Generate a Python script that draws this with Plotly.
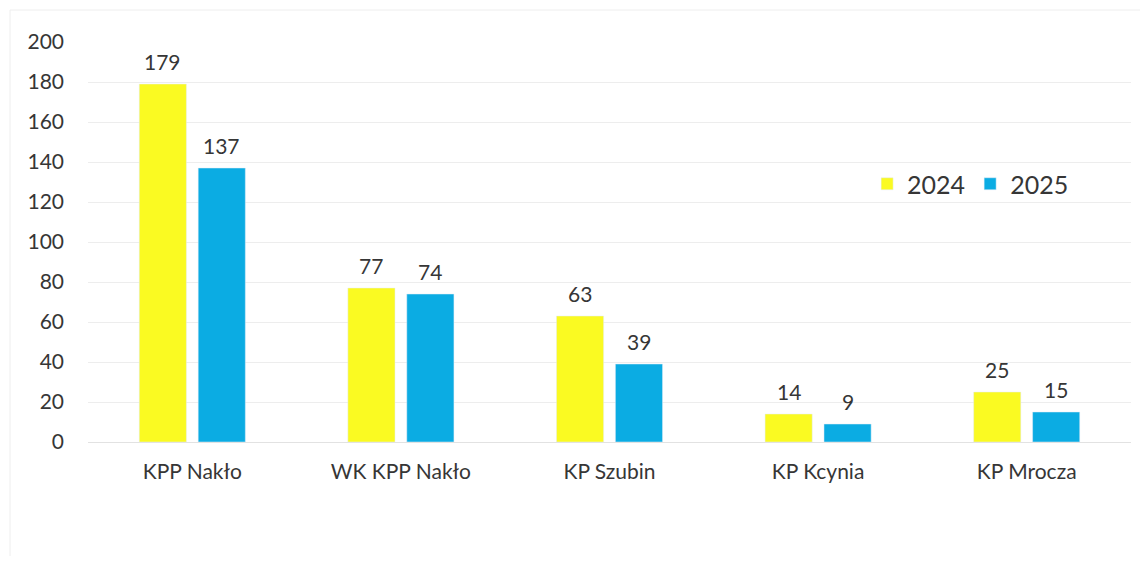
import plotly.graph_objects as go

categories = ["KPP Nakło", "WK KPP Nakło", "KP Szubin", "KP Kcynia", "KP Mrocza"]
values_2024 = [179, 77, 63, 14, 25]
values_2025 = [137, 74, 39, 9, 15]
y_ticks = [0, 20, 40, 60, 80, 100, 120, 140, 160, 180, 200]

FONT = "Lato, 'Open Sans', sans-serif"
TXT = "#363636"
YELLOW = "#FAFA22"
BLUE = "#0BACE3"

# page body has an 8px default margin; size the figure to fit the viewport
W, H = 1140, 548
ML, MR, MT, MB = 80, 17, 34, 114
plot_w = W - ML - MR
plot_h = H - MT - MB
cat_w = plot_w / len(categories)
BARGAP, BARGROUPGAP = 0.435, 0.2
slot = cat_w * (1 - BARGAP) / 2

fig = go.Figure()
fig.add_trace(go.Bar(name="2024", x=categories, y=values_2024, marker_color=YELLOW))
fig.add_trace(go.Bar(name="2025", x=categories, y=values_2025, marker_color=BLUE))

annotations = []
for vals, shift in ((values_2024, -slot / 2), (values_2025, slot / 2)):
    for c, v in zip(categories, vals):
        annotations.append(dict(
            x=c, y=v, xref="x", yref="y", text=str(v), showarrow=False,
            xshift=shift, yshift=23, yanchor="middle", xanchor="center",
            font=dict(size=21, color=TXT, family=FONT),
        ))

fig.update_layout(
    width=W, height=H,
    margin=dict(l=ML, r=MR, t=MT, b=MB),
    paper_bgcolor="white", plot_bgcolor="white",
    barmode="group", bargap=BARGAP, bargroupgap=BARGROUPGAP,
    font=dict(family=FONT, size=21, color=TXT),
    showlegend=True,
    legend=dict(
        orientation="h", x=0.747, y=0.645, xanchor="left", yanchor="middle",
        font=dict(size=25, color=TXT, family=FONT),
        bgcolor="rgba(0,0,0,0)", itemwidth=30,
    ),
    xaxis=dict(
        showgrid=False, showline=False, ticks="", automargin=False,
        tickfont=dict(size=21, color=TXT, family=FONT),
        ticklabelstandoff=15,
    ),
    yaxis=dict(
        range=[0, 200], tickvals=y_ticks, showgrid=True, automargin=False,
        gridcolor="#EDEDED", gridwidth=1, zeroline=True, zerolinecolor="#E2E2E2",
        zerolinewidth=1, showline=False, ticks="",
        tickfont=dict(size=21, color=TXT, family=FONT),
        ticklabelstandoff=23,
    ),
    annotations=annotations,
    shapes=[dict(
        type="rect", xref="paper", yref="paper",
        x0=-78 / plot_w, x1=1.03, y0=-0.31, y1=1 + 32 / plot_h,
        line=dict(color="#EEEEEE", width=1), fillcolor="rgba(0,0,0,0)", layer="below",
    )],
)

fig.write_html("out.html")
